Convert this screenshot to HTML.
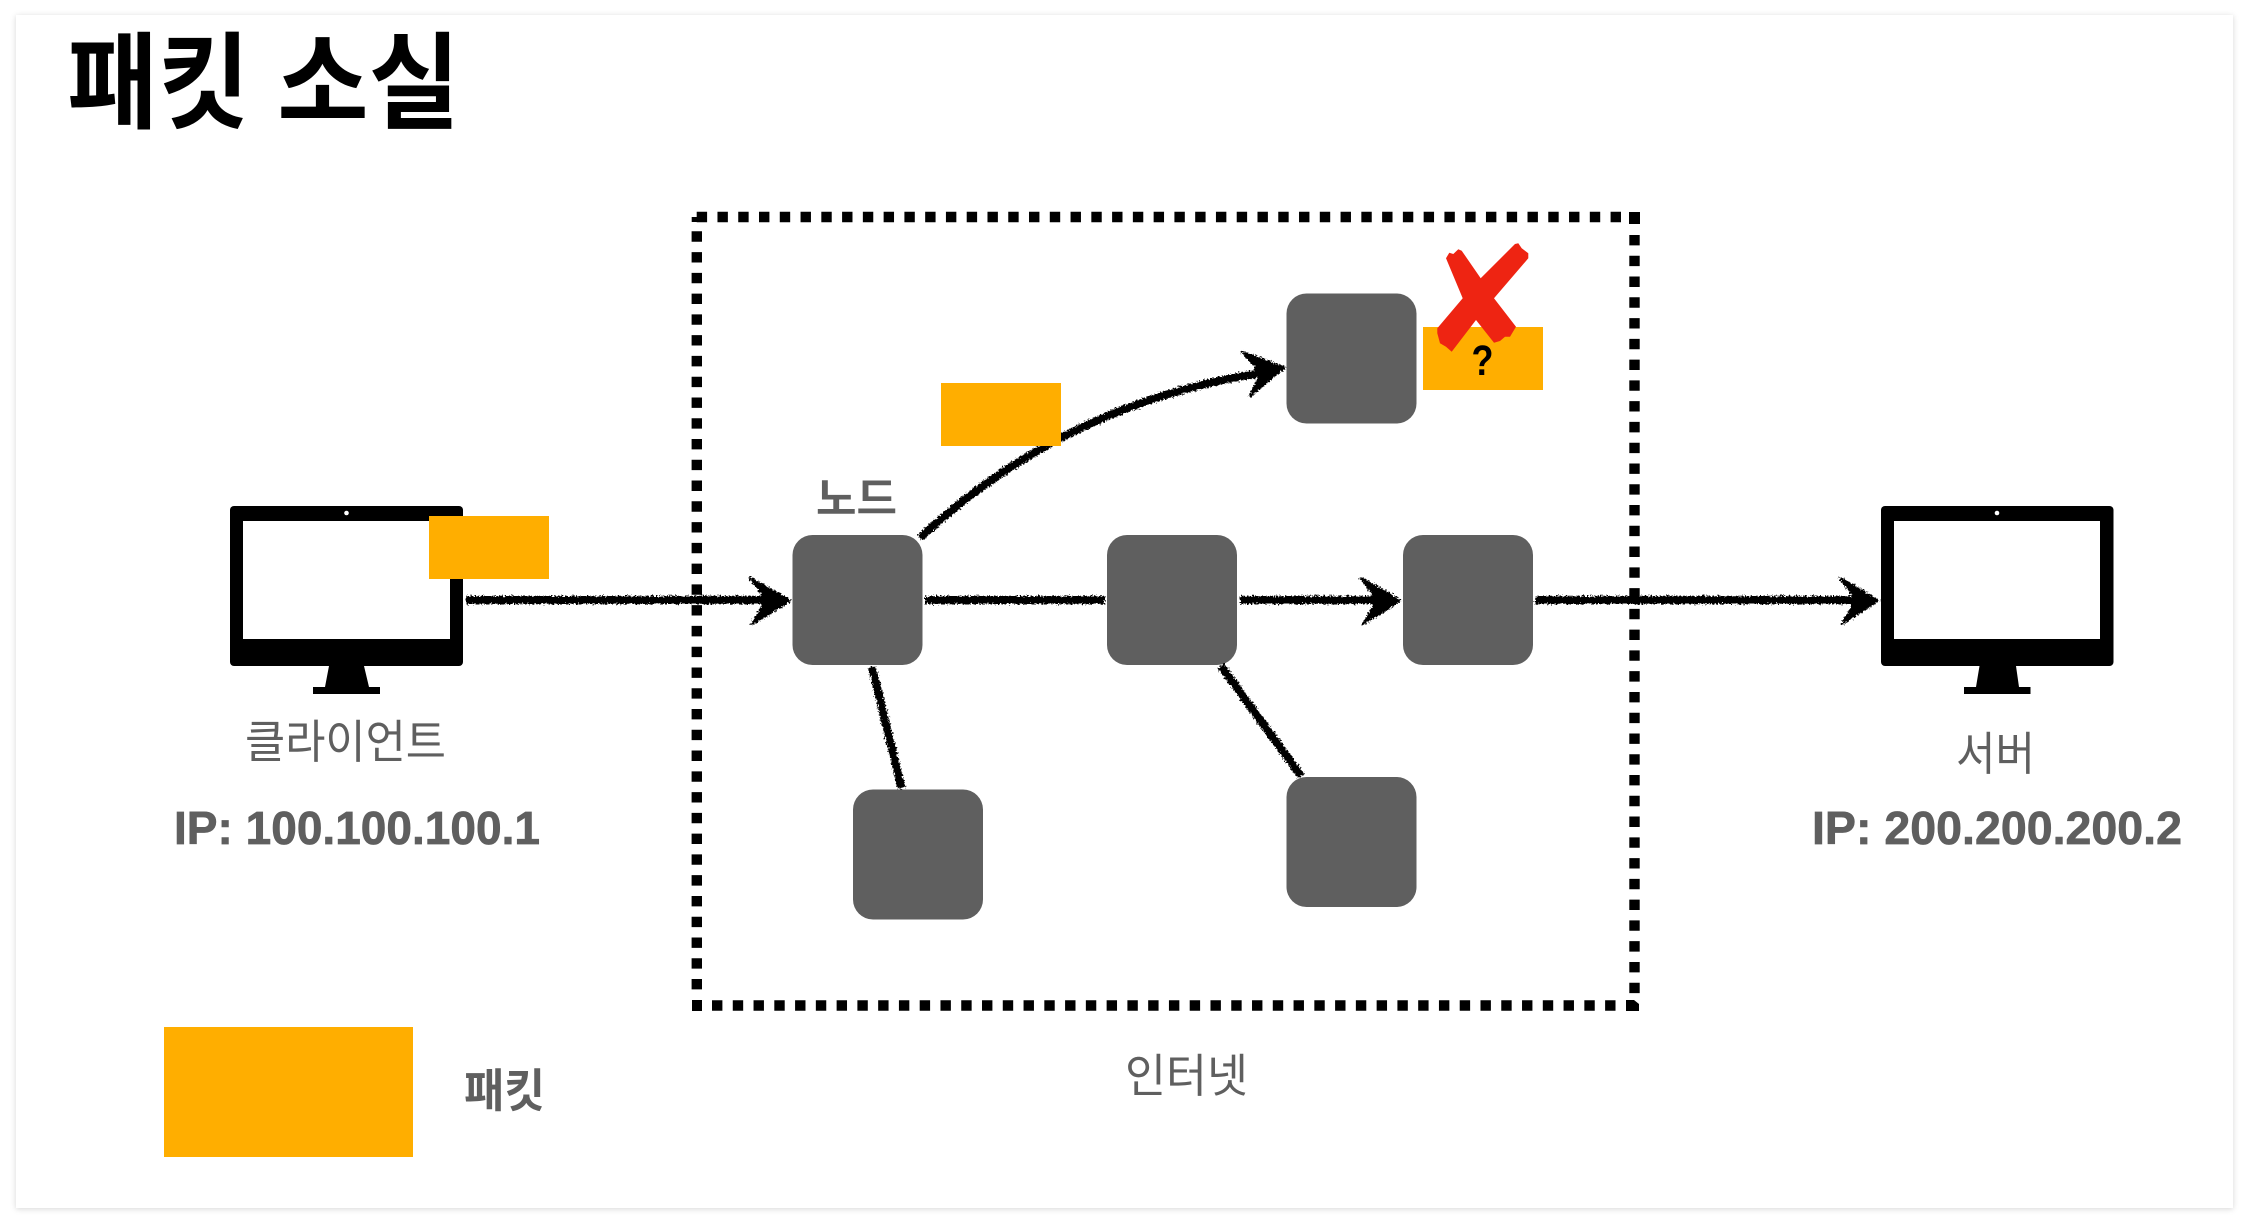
<!DOCTYPE html>
<html lang="ko">
<head>
<meta charset="utf-8">
<title>패킷 소실</title>
<style>
html,body{margin:0;padding:0;background:#fff;width:2248px;height:1224px;overflow:hidden}
svg{position:absolute;left:0;top:0;display:block}
.k{font-family:"Liberation Sans","Noto Sans CJK KR",sans-serif;fill:#5f5f5f}
.ip{font-family:"Liberation Sans",sans-serif;font-weight:700;fill:#5f5f5f;stroke:#5f5f5f;stroke-width:.7}
</style>
</head>
<body>
<svg width="2248" height="1224" viewBox="0 0 2248 1224" xmlns="http://www.w3.org/2000/svg">
<defs>
<filter id="shadow" x="-2%" y="-2%" width="104%" height="104%">
<feDropShadow dx="0" dy="1" stdDeviation="3" flood-color="#000" flood-opacity="0.16"/>
</filter>
<filter id="chalk" filterUnits="userSpaceOnUse" x="0" y="0" width="2248" height="1224">
<feTurbulence type="fractalNoise" baseFrequency="0.55" numOctaves="2" seed="4" result="n"/>
<feDisplacementMap in="SourceGraphic" in2="n" scale="6" xChannelSelector="R" yChannelSelector="G"/>
</filter>
</defs>

<rect x="16" y="15" width="2217" height="1193" fill="#fff" filter="url(#shadow)"/>

<text x="67" y="120" font-size="105" font-weight="700" fill="#000" textLength="393" lengthAdjust="spacingAndGlyphs" style="font-family:'Liberation Sans','Noto Sans CJK KR',sans-serif">패킷 소실</text>

<!-- Internet dashed border -->
<g stroke="#000" stroke-width="10.4" fill="none" stroke-dasharray="10.4 10.37">
<line x1="696.7" y1="217" x2="1622" y2="217"/>
<line x1="696.8" y1="231.3" x2="696.8" y2="992"/>
<line x1="1634.5" y1="235" x2="1634.5" y2="994"/>
<line x1="712" y1="1005.5" x2="1618" y2="1005.5"/>
</g>
<rect x="691.7" y="217" width="6" height="5" fill="#000"/>
<rect x="1629" y="212" width="11" height="12" fill="#000"/>
<rect x="692" y="1000" width="10" height="11" fill="#000"/>
<path d="M1626 1000h8l5 4v7h-13z" fill="#000"/>

<!-- client monitor -->
<rect x="230" y="506" width="233" height="160" rx="4" fill="#000"/>
<rect x="243" y="521" width="207" height="118" fill="#fff"/>
<circle cx="346.500" cy="513" r="2.300" fill="#fff"/>
<polygon points="329,666 364,666 369,687 380,687 380,694 313,694 313,687 325,687" fill="#000"/>

<!-- server monitor -->
<rect x="1881" y="506" width="232.500" height="160" rx="4" fill="#000"/>
<rect x="1894" y="521" width="206" height="118" fill="#fff"/>
<circle cx="1997" cy="513" r="2.300" fill="#fff"/>
<polygon points="1979.500,666 2016,666 2019,687 2030.500,687 2030.500,694 1964,694 1964,687 1976,687" fill="#000"/>

<!-- nodes -->
<g fill="#5f5f5f">
<rect x="1286.500" y="293.500" width="130" height="130" rx="20"/>
<rect x="792.500" y="535" width="130" height="130" rx="20"/>
<rect x="1107" y="535" width="130" height="130" rx="20"/>
<rect x="1403" y="535" width="130" height="130" rx="20"/>
<rect x="853" y="789.500" width="130" height="130" rx="20"/>
<rect x="1286.500" y="777" width="130" height="130" rx="20"/>
</g>

<!-- connectors -->
<g filter="url(#chalk)">
<g stroke="#000" stroke-width="8" fill="none">
<line x1="466" y1="600" x2="770" y2="600"/>
<line x1="925" y1="600" x2="1105" y2="600"/>
<line x1="1240" y1="600" x2="1380" y2="600"/>
<line x1="1535" y1="600" x2="1860" y2="600"/>
<line x1="872" y1="667" x2="901.500" y2="788"/>
<line x1="1221" y1="666" x2="1301" y2="776"/>
<path d="M920 538 C 995 468 1105 396 1268 372"/>
</g>
<g fill="#000" stroke="#000" stroke-width="2.500" stroke-linejoin="round">
<path d="M750 578 L790 600.500 L752 624 L763 606 L763 595Z"/>
<path d="M1361 578 L1400 600.500 L1363 624 L1374 606 L1374 595Z"/>
<path d="M1840 578 L1878 600.500 L1842 624 L1853 606 L1853 595Z"/>
<path d="M1242 352 L1284 367.500 L1250 396 L1259 378 L1256 367Z"/>
</g>
</g>

<!-- packets -->
<g fill="#ffae00">
<rect x="429" y="516" width="120" height="63"/>
<rect x="941" y="383" width="120" height="63"/>
<rect x="1423" y="327" width="120" height="63"/>
<rect x="164" y="1027" width="249" height="130"/>
</g>

<!-- red cross -->
<polygon fill="#ee2412" points="1446,258.300 1449.300,252.700 1453.300,254 1458.300,249.300 1461.700,250.700 1480.700,278.300 1515,244 1518.300,243.300 1521.700,248.300 1528.300,253.300 1528.300,258.300 1494,298.300 1516,326.700 1510,336.700 1505,336.700 1500,341 1494,342.700 1476,320 1451.700,351.700 1446,346.700 1440,343.300 1437.300,333.300 1437.300,328.300 1462.700,298.300"/>

<text x="1471.500" y="375" font-size="43" font-weight="700" fill="#000" textLength="22" lengthAdjust="spacingAndGlyphs" style="font-family:'Liberation Sans',sans-serif">?</text>

<!-- labels -->
<text class="k" x="245" y="758" font-size="46" textLength="201" lengthAdjust="spacingAndGlyphs">클라이언트</text>
<text class="ip" x="174" y="844" font-size="46" textLength="366" lengthAdjust="spacingAndGlyphs">IP: 100.100.100.1</text>
<text class="k" x="1956" y="770" font-size="46" textLength="79" lengthAdjust="spacingAndGlyphs">서버</text>
<text class="ip" x="1812" y="844" font-size="46" textLength="370" lengthAdjust="spacingAndGlyphs">IP: 200.200.200.2</text>
<text class="k" x="816" y="514" font-size="44" font-weight="700" textLength="81" lengthAdjust="spacingAndGlyphs">노드</text>
<text class="k" x="464" y="1107" font-size="46" font-weight="700" textLength="81" lengthAdjust="spacingAndGlyphs">패킷</text>
<text class="k" x="1125" y="1092" font-size="46" textLength="123" lengthAdjust="spacingAndGlyphs">인터넷</text>
</svg>
</body>
</html>
